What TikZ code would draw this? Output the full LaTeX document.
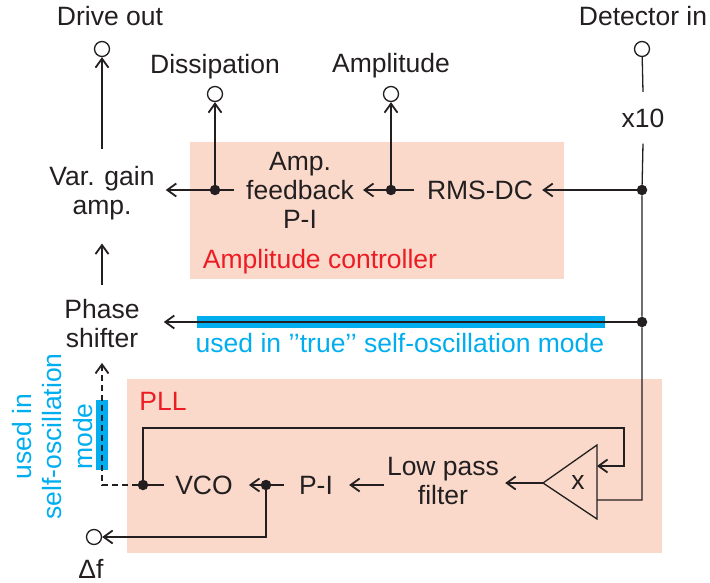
\documentclass[tikz,border=0pt]{standalone}
\usepackage{fontspec}
\setmainfont{Liberation Sans}
\usetikzlibrary{arrows.meta,calc}
\definecolor{salmon}{HTML}{FAD9CA}
\definecolor{ctrlred}{HTML}{ED1C24}
\definecolor{cyanblue}{HTML}{00AEEF}
\definecolor{ink}{HTML}{231F20}
\begin{document}
\begin{tikzpicture}[x=1pt,y=-1pt,
  font=\fontsize{26.5}{29}\selectfont,
  lbl/.style={inner sep=0pt, align=center, text=ink},
  redlbl/.style={inner sep=0pt, text=ctrlred},
  bluelbl/.style={inner sep=0pt, text=cyanblue, align=center},
  term/.style={circle, draw=ink, fill=white, line width=1.3pt, minimum size=15pt, inner sep=0pt},
  dot/.style={circle, fill=ink, minimum size=10.5pt, inner sep=0pt},
  wire/.style={draw=ink, line width=1.3pt},
  thinwire/.style={draw=ink, line width=1.1pt},
  arr/.style={wire, -{Straight Barb[length=9pt,width=13pt,line width=1.8pt]}},
  thinarr/.style={thinwire, -{Straight Barb[length=9pt,width=13pt,line width=1.8pt]}},
  dashwire/.style={dash pattern=on 6pt off 4pt},
  panel/.style={fill=salmon, draw=none},
  bluebar/.style={fill=cyanblue, draw=none}]
\useasboundingbox (0,0) rectangle (710,583);

% panels
\fill[panel] (190,142) rectangle (564,279);
\fill[panel] (127,379) rectangle (662,553);

% blue bars
\fill[bluebar] (197,316) rectangle (605,328);
\fill[bluebar] (96,400) rectangle (108,470);

% labels and terminals
\node[lbl] (driveL) at (110,16.5) {Drive out};
\node[term] (driveT) at (102,49) {};
\node[lbl] (dissL) at (215,67) {Dissipation};
\node[term] (dissT) at (215,94) {};
\node[lbl] (ampL) at (391,66) {Amplitude};
\node[term] (ampT) at (391,94) {};
\node[lbl] (detL) at (643,16.5) {Detector in};
\node[term] (detT) at (642,49) {};
\node[lbl] (x10) at (643,118.5) {x10};

\node[lbl] (vga) at (102,193) {Var. gain\\amp.};
\node[lbl] (apfb) at (300,190) {Amp.\\feedback\\P-I};
\node[lbl] (rms) at (480,190) {RMS-DC};
\node[dot] (j1) at (642,190) {};
\node[dot] (j2) at (391,190) {};
\node[dot] (j3) at (215,190) {};
\node[redlbl] (acL) at (320,261.5) {Amplitude controller};

\node[lbl] (ps) at (102,323.5) {Phase\\shifter};
\node[dot] (j4) at (642,322) {};
\node[bluelbl] (trueL) at (400,343.5) {used in '{}'true'{}' self-oscillation mode};

\node[redlbl] (pllL) at (163,401.5) {PLL};
\node[bluelbl, rotate=90, font=\fontsize{26.5}{30.5}\selectfont] (soL) at (52.5,436.5) {used in\\self-oscillation\\mode};

% multiplier
\coordinate (mOut) at (543,483);
\coordinate (mTop) at (597,445);
\coordinate (mBot) at (597,519);
\coordinate (mIn1) at (597,466);
\coordinate (mIn2) at (597,500);
\coordinate (cB) at (642,500);
\coordinate (fbB) at (624,428);
\draw[wire, line join=miter] (mOut) -- (mTop) -- (mBot) -- cycle;
\node[lbl] (mulx) at (578,482.5) {x};

\node[lbl] (lpf) at (443,481.5) {Low pass\\filter};
\node[lbl] (pi) at (316,485) {P-I};
\node[lbl] (vco) at (204,485) {VCO};
\node[dot] (j5) at (266,485) {};
\node[dot] (j6) at (143,485) {};
\node[term] (dfT) at (94,537) {};
\node[lbl] (dfL) at (91,569) {Δf};

% top connectors
\draw[arr] ($(vga.north)+(0,-17)$) -- (driveT);
\draw[arr] ($(ps.north)+(0,-14)$) -- ($(vga.south)+(0,23.5)$);
\draw[arr] (j3) -- (dissT);
\draw[arr] (j2) -- (ampT);
\draw[wire] (detT) -- ($(x10.north)+(0,-17)$);
\draw[wire] ($(x10.south)+(0,15.5)$) -- (j1) -- (j4) -- (cB) -- (mIn2);
\draw[arr] (j1) -- ($(rms.east)+(9,0)$);
\draw[wire] ($(rms.west)+(-13,0)$) -- (j2);
\draw[arr] (j2) -- ($(apfb.east)+(9,0)$);
\draw[wire] ($(apfb.west)+(-12,0)$) -- (j3);
\draw[arr] (j3) -- ($(vga.east|-j3)+(11,0)$);
\draw[arr] (j4) -- ($(ps.east|-j4)+(24,0)$);

% PLL connectors
\draw[thinarr] (j6) |- (fbB) -- (fbB|-mIn1) -- (mIn1);
\draw[arr] (mOut) -- ($(lpf.east|-mOut)+(6,0)$);
\draw[arr] ($(lpf.west|-pi)+(-3,0)$) -- ($(pi.east)+(16,0)$);
\draw[wire] ($(pi.west)+(-15,0)$) -- (j5);
\draw[arr] (j5) -- ($(vco.east)+(16,0)$);
\draw[arr] (j5) |- (dfT);
\draw[wire] ($(vco.west)+(-11,0)$) -- (j6);
\draw[arr, dashwire] (j6) -| ($(ps.south)+(0,15)$);
\end{tikzpicture}
\end{document}
